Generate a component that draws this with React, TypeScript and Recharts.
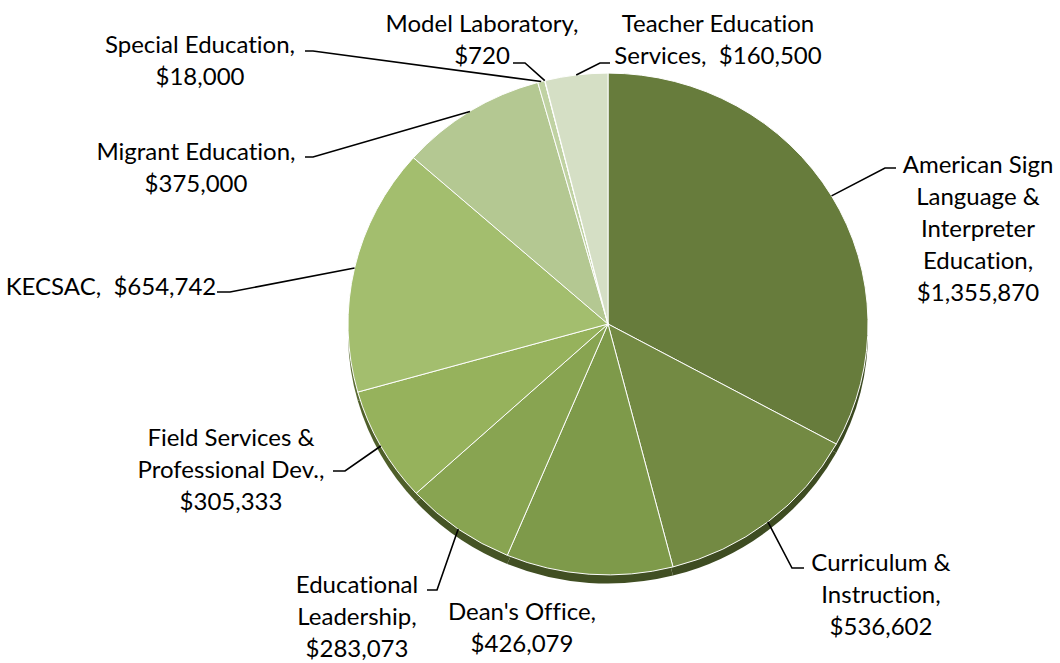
import React from "react";
import { PieChart, Pie, Cell } from "recharts";

const CATEGORIES = [
  "American Sign Language & Interpreter Education",
  "Curriculum & Instruction",
  "Dean's Office",
  "Educational Leadership",
  "Field Services & Professional Dev.",
  "KECSAC",
  "Migrant Education",
  "Special Education",
  "Model Laboratory",
  "Teacher Education Services",
];
const VALUES = [1355870, 536602, 426079, 283073, 305333, 654742, 375000, 18000, 720, 160500];
const NAME_LINES = [
  ["American Sign", "Language &", "Interpreter", "Education,"],
  ["Curriculum &", "Instruction,"],
  ["Dean's Office,"],
  ["Educational", "Leadership,"],
  ["Field Services &", "Professional Dev.,"],
  ["KECSAC,"],
  ["Migrant Education,"],
  ["Special Education,"],
  ["Model Laboratory,"],
  ["Teacher Education", "Services,"],
];
const INLINE_VALUE = [false, false, false, false, false, true, false, false, false, true];

const COLORS = [
  "#677c3c", "#738a43", "#7e9a4a", "#88a451", "#96b25c",
  "#a3be6e", "#b4c892", "#c0d2a3", "#cad9b2", "#d5dfc5",
];
const DEPTH_COLORS = [
  "#3a4820", "#3e4c22", "#414f23", "#455425", "#4f5f2a",
  "#5a6b33", "#687a46", "#748654", "#7c8e5c", "#86966d",
];

// label positions relative to the pie centre: text centre, elbow, tail
const LABEL_LAYOUT = [
  { tx: 370, ty: -161, leader: [277, -156, 288, -156] },
  { tx: 273, ty: 237, leader: [184, 244, 196, 244] },
  { tx: -86, ty: 286, leader: null },
  { tx: -251, ty: 259, leader: [-171, 266, -181, 266] },
  { tx: -377, ty: 112, leader: [-263, 147, -275, 147] },
  { tx: -497, ty: -39, leader: [-378, -32, -391, -32] },
  { tx: -412, ty: -174, leader: [-295, -167, -303, -167] },
  { tx: -408, ty: -281, leader: [-295, -273, -303, -273] },
  { tx: -126, ty: -302, leader: [-83, -261, -95, -261] },
  { tx: 110, ty: -302, leader: [-8, -261, 2, -261] },
];

const data = CATEGORIES.map((name, i) => ({ name, value: VALUES[i] }));
const fmt = (v: number) => "$" + v.toLocaleString("en-US");

const CX = 608;
const CY = 324;
const R = 260;
const SQUASH = 0.965;
const LINE_H = 32;
const FONT = "Lato, 'Open Sans', sans-serif";

const renderLabel = (props: any) => {
  const { cx, cy, midAngle, outerRadius, index } = props;
  const L = LABEL_LAYOUT[index];
  const rad = Math.PI / 180;
  const sx = cx + outerRadius * Math.cos(-midAngle * rad);
  const sy = cy + outerRadius * SQUASH * Math.sin(-midAngle * rad);
  const names = NAME_LINES[index].slice();
  const val = fmt(VALUES[index]);
  let lines: string[];
  if (INLINE_VALUE[index]) {
    names[names.length - 1] = names[names.length - 1] + "\u00a0\u00a0" + val;
    lines = names;
  } else {
    lines = [...names, val];
  }
  return (
    <g key={"lbl" + index}>
      {L.leader && (
        <polyline
          points={`${sx},${sy} ${cx + L.leader[0]},${cy + L.leader[1]} ${cx + L.leader[2]},${cy + L.leader[3]}`}
          fill="none"
          stroke="#000"
          strokeWidth={1.6}
        />
      )}
      <text
        x={cx + L.tx}
        y={cy + L.ty}
        textAnchor="middle"
        fill="#000"
        fontFamily={FONT}
        fontSize={24}
        style={{ fontVariantLigatures: "none", fontFeatureSettings: '"liga" 0' }}
      >
        {lines.map((ln, i) => (
          <tspan key={i} x={cx + L.tx} y={cy + L.ty + i * LINE_H} dominantBaseline="central">
            {ln}
          </tspan>
        ))}
      </text>
    </g>
  );
};

export default function App() {
  return (
    <div style={{ position: "absolute", left: 0, top: 0, width: 1060, height: 663, background: "#fff" }}>
      <style>{`.recharts-pie-sector { transform: scaleY(${SQUASH}); transform-origin: ${CX}px ${CY}px; }`}</style>
      <PieChart width={1060} height={663} margin={{ top: 0, right: 0, bottom: 0, left: 0 }}>
        <Pie
          data={data}
          dataKey="value"
          nameKey="name"
          cx={CX}
          cy={CY + 9}
          outerRadius={R}
          startAngle={90}
          endAngle={-270}
          stroke="none"
          isAnimationActive={false}
          label={false}
          labelLine={false}
        >
          {data.map((_, i) => (
            <Cell key={i} fill={DEPTH_COLORS[i]} />
          ))}
        </Pie>
        <Pie
          data={data}
          dataKey="value"
          nameKey="name"
          cx={CX}
          cy={CY}
          outerRadius={R}
          startAngle={90}
          endAngle={-270}
          stroke="#ffffff"
          strokeWidth={1}
          isAnimationActive={false}
          label={renderLabel}
          labelLine={false}
        >
          {data.map((_, i) => (
            <Cell key={i} fill={COLORS[i]} />
          ))}
        </Pie>
      </PieChart>
    </div>
  );
}
